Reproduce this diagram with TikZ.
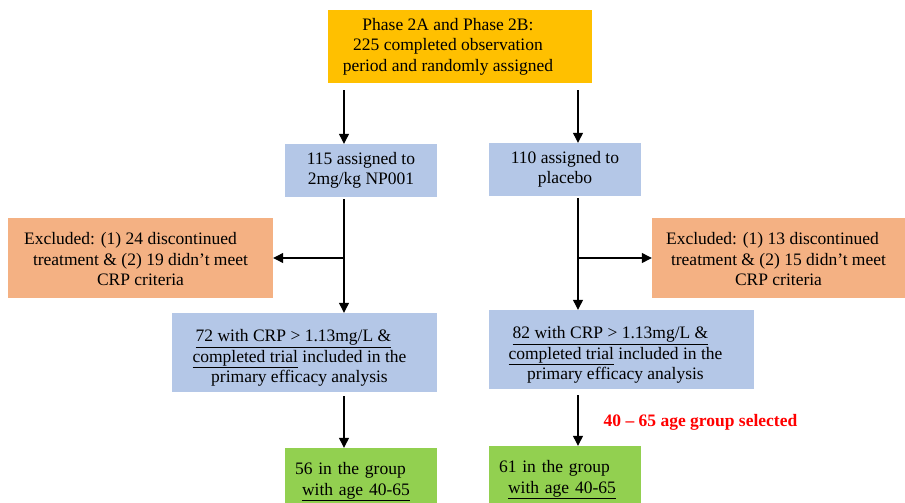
\documentclass[tikz,border=0pt]{standalone}
\usepackage{fontspec}
\setmainfont{Liberation Serif}
\usepackage{xcolor}
\usepackage{tikz}
\usetikzlibrary{arrows.meta}
\definecolor{gold}{HTML}{FFC000}
\definecolor{bluepale}{HTML}{B4C7E7}
\definecolor{salmon}{HTML}{F4B183}
\definecolor{leaf}{HTML}{92D050}

\begin{document}
\begin{tikzpicture}[x=1pt,y=-1pt,
  bb/.style={draw=none,fill=bluepale,align=center,inner sep=0pt,font=\fontsize{17.5}{20.5}\selectfont},
  gb/.style={bb,fill=gold},
  ob/.style={bb,fill=salmon},
  lb/.style={bb,fill=leaf,align=left,inner xsep=10pt,text width=132pt,minimum width=152pt},
  ar/.style={-{Triangle[length=10pt,width=10pt]},line width=1.2pt,black}]
\useasboundingbox (0,0) rectangle (905,503);
\clip (0,0) rectangle (905,503);
\node[gb,minimum width=264pt,minimum height=73pt] (phase) at (460,46.5) {\begin{tabular}{@{}c@{\hspace{24pt}}}Phase 2A and Phase 2B:\\225 completed observation\\period and randomly assigned\end{tabular}};
\node[bb,minimum width=152pt,minimum height=53pt] (n115) at (361,170.5) {115 assigned to\\2mg/kg NP001};
\node[bb,minimum width=152pt,minimum height=53pt] (n110) at (565,169.5) {110 assigned to\\placebo};
\node[ob,minimum width=265pt,minimum height=80pt] (exL) at (140.5,257.5) {\begin{tabular}{@{}c@{}}\rule{0pt}{22pt}Excluded: (1) 24 discontinued\hspace*{20pt}\\treatment \& (2) 19 didn't meet\\CRP criteria\end{tabular}};
\node[ob,minimum width=253pt,minimum height=80pt] (exR) at (778.5,257.5) {\begin{tabular}{@{}c@{}}\rule{0pt}{22pt}Excluded: (1) 13 discontinued\hspace*{12pt}\\treatment \& (2) 15 didn't meet\\CRP criteria\end{tabular}};
\node[bb,minimum width=265pt,minimum height=79pt] (n72) at (304.5,352.5) {\begin{tabular}{@{}c@{\hspace{10pt}}}\rule{0pt}{26pt}\underline{72 with CRP > 1.13mg/L \&}\hspace*{12pt}\\\underline{completed trial} included in the\\primary efficacy analysis\end{tabular}};
\node[bb,minimum width=265pt,minimum height=79pt] (n82) at (621.5,349.5) {\begin{tabular}{@{}c@{\hspace{12pt}}}\rule{0pt}{26pt}\underline{82 with CRP > 1.13mg/L \&}\hspace*{10pt}\\\underline{completed trial} included in the\\primary efficacy analysis\end{tabular}};
\node[lb,minimum height=68pt] (g56) at (361,482) {56 in the group\\\hspace*{7pt}\underline{with age 40-65}};
\node[lb,minimum height=68pt] (g61) at (565,480) {61 in the group\\\hspace*{9pt}\underline{with age 40-65}};
\node[anchor=base,inner sep=0pt,text=red,font=\fontsize{17.5}{20.5}\selectfont\bfseries] (sel) at (700.5,426) {40 -- 65 age group selected};
\coordinate (lx) at (344,0);
\coordinate (rx) at (578,0);
\coordinate (jl) at (344,258);
\coordinate (jr) at (578,258);
\draw[ar] ([yshift=-7pt]phase.south -| lx) -- (n115.north -| lx);
\draw[ar] ([yshift=-7pt]phase.south -| rx) -- (n110.north -| rx);
\draw[ar] ([yshift=-2pt]n115.south -| lx) -- (n72.north -| lx);
\draw[ar] ([yshift=-2pt]n110.south -| rx) -- (n82.north -| rx);
\draw[ar] (jl) -- (jl -| exL.east);
\draw[ar] (jr) -- (jr -| exR.west);
\draw[ar] ([yshift=-4pt]n72.south -| lx) -- (g56.north -| lx);
\draw[ar] ([yshift=-6pt]n82.south -| rx) -- (g61.north -| rx);
\end{tikzpicture}
\end{document}
